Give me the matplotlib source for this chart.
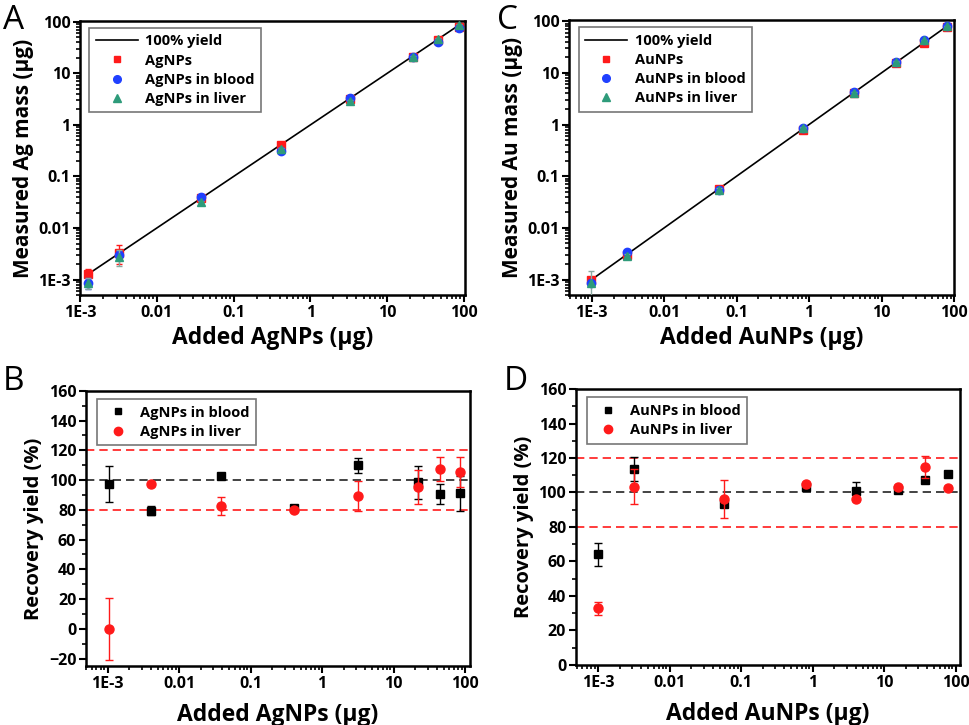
import matplotlib
matplotlib.use("Agg")
import matplotlib.pyplot as plt
from matplotlib.lines import Line2D
from matplotlib.ticker import LogLocator, NullFormatter, FixedLocator, MultipleLocator

plt.rcParams['font.family'] = ['Open Sans', 'DejaVu Sans']
plt.rcParams['font.weight'] = 'bold'

# ---- panel A : silver, measured vs added ----
ag_added = [1.27e-3, 3.2e-3, 0.038, 0.41, 3.25, 22, 46, 86]
ag_np = [1.27e-3, 3.3e-3, 0.038, 0.40, 3.2, 21, 45, 80]
ag_np_err = [0.36e-3, 1.3e-3, 0.002, 0.02, 0.15, 1, 2, 4]
ag_blood = [0.86e-3, 2.95e-3, 0.040, 0.31, 3.3, 21, 40, 75]
ag_blood_err = [0.2e-3, 0.6e-3, 0.002, 0.02, 0.15, 1, 2, 3]
ag_liver = [0.87e-3, 2.8e-3, 0.032, 0.34, 2.9, 21, 47, 88]
ag_liver_err = [0.2e-3, 1.0e-3, 0.002, 0.02, 0.15, 1, 2, 4]

# ---- panel B : silver recovery ----
ag_added_b = [1.05e-3, 4.04e-3, 0.038, 0.41, 3.23, 21.8, 44.7, 84]
ag_rec_blood = [97.5, 79.5, 103, 81, 110, 98.5, 90.5, 91]
ag_rec_blood_err = [12, 3, 1, 1, 5, 11, 6.5, 12]
ag_rec_liver = [0, 97, 82.5, 80, 89.5, 95.5, 107.5, 105.5]
ag_rec_liver_err = [21, 1, 6, 1, 10, 11.5, 8, 10]

# ---- panel C : gold, measured vs added ----
au_added = [0.98e-3, 3.05e-3, 0.0576, 0.817, 4.2, 15.9, 38.5, 79]
au_np = [0.97e-3, 3.0e-3, 0.057, 0.80, 4.1, 15.5, 37, 77]
au_np_err = [0.1e-3, 0.2e-3, 0.003, 0.03, 0.2, 0.5, 1, 2]
au_blood = [0.85e-3, 3.4e-3, 0.055, 0.85, 4.2, 16, 44, 80]
au_blood_err = [0.1e-3, 0.2e-3, 0.003, 0.03, 0.2, 0.5, 1, 2]
au_liver = [0.85e-3, 2.9e-3, 0.055, 0.87, 4.0, 16.5, 43, 80]
au_liver_err = [0.6e-3, 0.2e-3, 0.003, 0.03, 0.2, 0.5, 1, 2]

# ---- panel D : gold recovery ----
au_added_d = [1.0e-3, 3.18e-3, 0.0585, 0.81, 4.1, 15.5, 37.3, 77.3]
au_rec_blood = [64.2, 113.6, 93.3, 103.4, 100.6, 101.6, 107, 110.5]
au_rec_blood_err = [6.6, 7, 1, 1, 5.5, 1, 1, 1]
au_rec_liver = [32.7, 103.4, 96.2, 105.1, 96.4, 103.2, 114.8, 102.6]
au_rec_liver_err = [3.8, 10, 11, 1, 1, 1, 6.4, 1]

log_ticks = [1e-3, 1e-2, 1e-1, 1, 10, 100]
log_labels = ["1E-3", "0.01", "0.1", "1", "10", "100"]

RED = "#ff1a1a"
BLUE = "#2040ff"
GREEN = "#2e9b7a"

fig = plt.figure(figsize=(9.69, 7.25), dpi=100)
axA = fig.add_axes([0.0826, 0.593, 0.397, 0.378])
axB = fig.add_axes([0.0888, 0.0814, 0.3962, 0.3796])
axC = fig.add_axes([0.5875, 0.593, 0.397, 0.379])
axD = fig.add_axes([0.5944, 0.083, 0.3963, 0.3804])


def style_axis(ax):
    for s in ax.spines.values():
        s.set_linewidth(1.8)
    ax.tick_params(which="major", direction="out", length=5, width=1.5,
                   labelsize=11.5, top=False, right=False, pad=2)
    ax.tick_params(which="minor", direction="out", length=3, width=1.2,
                   top=False, right=False)
    for lab in ax.get_xticklabels() + ax.get_yticklabels():
        lab.set_fontweight("bold")


def log_x(ax):
    ax.set_xscale("log")
    ax.xaxis.set_major_locator(FixedLocator(log_ticks))
    ax.set_xticklabels(log_labels)
    ax.xaxis.set_minor_locator(LogLocator(base=10, subs=range(2, 10), numticks=20))
    ax.xaxis.set_minor_formatter(NullFormatter())


def make_legend(ax, handles, labels, hlen, anchor, fs):
    leg = ax.legend(handles, labels, loc="upper left", fontsize=fs, frameon=True,
                    fancybox=False, edgecolor="#555555", handlelength=hlen,
                    handletextpad=0.5, borderpad=0.45, labelspacing=0.35,
                    borderaxespad=0, bbox_to_anchor=anchor)
    leg.get_frame().set_linewidth(1.2)
    for t in leg.get_texts():
        t.set_fontweight("bold")


def mass_panel(ax, added, np_vals, np_err, bl, bl_err, lv, lv_err, metal, xlim):
    ax.plot([added[0], added[-1]], [added[0], added[-1]], color="black", lw=1.2, zorder=2)
    ax.errorbar(added, np_vals, yerr=np_err, fmt="s", color=RED, ms=5.5, capsize=2.5,
                elinewidth=1, zorder=3)
    ax.errorbar(added, bl, yerr=bl_err, fmt="o", color=BLUE, ms=6, capsize=2.5,
                elinewidth=1, zorder=4)
    ax.errorbar(added, lv, yerr=lv_err, fmt="^", color=GREEN, ecolor="#8aa8a0", ms=6,
                capsize=2.5, elinewidth=1, zorder=5)
    log_x(ax)
    ax.set_yscale("log")
    ax.yaxis.set_major_locator(FixedLocator(log_ticks))
    ax.set_yticklabels(log_labels)
    ax.yaxis.set_minor_locator(LogLocator(base=10, subs=range(2, 10), numticks=20))
    ax.yaxis.set_minor_formatter(NullFormatter())
    ax.set_xlim(*xlim)
    ax.set_ylim(5e-4, 104)
    ax.set_xlabel("Added " + metal + "NPs (μg)", fontsize=16.5, fontweight="bold", labelpad=4)
    ax.set_ylabel("Measured " + metal + " mass (μg)", fontsize=15, fontweight="bold", labelpad=3)
    handles = [Line2D([], [], color="black", lw=1.2),
               Line2D([], [], ls="none", marker="s", color=RED, ms=5),
               Line2D([], [], ls="none", marker="o", color=BLUE, ms=5.5),
               Line2D([], [], ls="none", marker="^", color=GREEN, ms=5.5)]
    labels = ["100% yield", metal + "NPs", metal + "NPs in blood", metal + "NPs in liver"]
    make_legend(ax, handles, labels, 2.9, (0.024, 0.975), 10.5)
    style_axis(ax)


def recovery_panel(ax, added, bl, bl_err, lv, lv_err, metal, xlim, ylim, yticks):
    ax.axhline(120, color=RED, ls=(0, (5, 3)), lw=1.2, zorder=1)
    ax.axhline(80, color=RED, ls=(0, (5, 3)), lw=1.2, zorder=1)
    ax.axhline(100, color="#222222", ls=(0, (5, 3)), lw=1.2, zorder=1)
    ax.errorbar(added, bl, yerr=bl_err, fmt="s", color="black", ms=5.5, capsize=3,
                elinewidth=1, zorder=3)
    ax.errorbar(added, lv, yerr=lv_err, fmt="o", color=RED, ms=6.5, capsize=3,
                elinewidth=1, zorder=4)
    log_x(ax)
    ax.set_xlim(*xlim)
    ax.set_ylim(*ylim)
    ax.yaxis.set_major_locator(FixedLocator(yticks))
    ax.yaxis.set_minor_locator(MultipleLocator(10))
    ax.set_xlabel("Added " + metal + "NPs (μg)", fontsize=16.5, fontweight="bold", labelpad=8)
    ax.set_ylabel("Recovery yield (%)", fontsize=14.5, fontweight="bold", labelpad=3)
    handles = [Line2D([], [], ls="none", marker="s", color="black", ms=5),
               Line2D([], [], ls="none", marker="o", color=RED, ms=6)]
    labels = [metal + "NPs in blood", metal + "NPs in liver"]
    make_legend(ax, handles, labels, 2.0, (0.028, 0.97), 10.5)
    style_axis(ax)


mass_panel(axA, ag_added, ag_np, ag_np_err, ag_blood, ag_blood_err, ag_liver, ag_liver_err,
           "Ag", (1e-3, 103))
recovery_panel(axB, ag_added_b, ag_rec_blood, ag_rec_blood_err, ag_rec_liver, ag_rec_liver_err,
               "Ag", (5e-4, 117), (-25, 160), list(range(-20, 161, 20)))
mass_panel(axC, au_added, au_np, au_np_err, au_blood, au_blood_err, au_liver, au_liver_err,
           "Au", (4.9e-4, 100))
recovery_panel(axD, au_added_d, au_rec_blood, au_rec_blood_err, au_rec_liver, au_rec_liver_err,
               "Au", (4.9e-4, 115), (0, 160), list(range(0, 161, 20)))

# panel letters
fig.text(0.003, 0.995, "A", fontsize=24, fontweight="normal", va="top", ha="left")
fig.text(0.003, 0.497, "B", fontsize=24, fontweight="normal", va="top", ha="left")
fig.text(0.513, 0.995, "C", fontsize=24, fontweight="normal", va="top", ha="left")
fig.text(0.52, 0.497, "D", fontsize=24, fontweight="normal", va="top", ha="left")

fig.savefig("out.png", dpi=100)
